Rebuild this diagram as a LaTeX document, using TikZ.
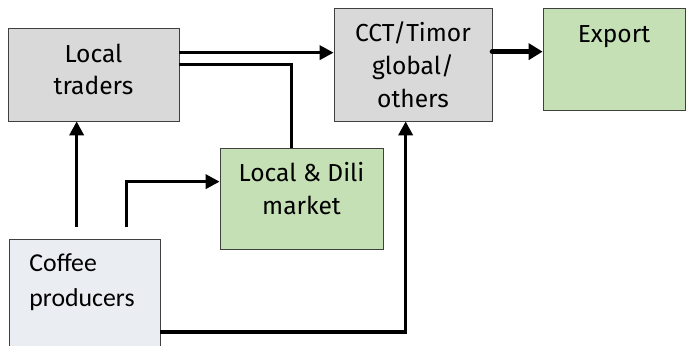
\documentclass[tikz,border=0pt]{standalone}
\usepackage{fontspec}
\setmainfont{Fira Sans}
\newfontfamily\calfont{Carlito}
\usetikzlibrary{arrows.meta, positioning}
\definecolor{boxgrey}{HTML}{D9D9D9}
\definecolor{boxgreen}{HTML}{C5E0B4}
\definecolor{boxblue}{HTML}{EAEDF2}
\definecolor{boxline}{HTML}{404040}
\begin{document}
\begin{tikzpicture}[
	box/.style={draw=boxline, line width=0.6pt, inner sep=0pt, align=center, font=\fontsize{21}{28}\selectfont},
	boxtext/.style={align=center, font=\fontsize{21}{28}\selectfont},
	flow/.style={line width=3pt, -{Triangle[length=0.42cm, width=0.42cm]}},
	plain/.style={line width=3pt}]
	\clip (0,0) rectangle (20.58,10.35);
	\node[box, fill=boxgrey, minimum width=5.13cm, minimum height=2.79cm] (traders) at (2.805,8.115) {};
	\node[boxtext, yshift=0.15cm] (tradtxt) at (traders) {Local\\traders};
	\node[box, fill=boxgrey, minimum width=4.74cm, minimum height=3.39cm] (CCT) at (12.39,8.415) {CCT/Timor\\global/\\others};
	\node[box, fill=boxgreen, minimum width=4.26cm, minimum height=3.06cm] (export) at (18.42,8.58) {};
	\node[boxtext, below=0.42cm of export.north] (exptxt) {Export};
	\node[box, fill=boxgreen, minimum width=4.89cm, minimum height=3.03cm] (market) at (9.045,4.395) {};
	\node[boxtext, yshift=0.3cm] (mkttxt) at (market) {Local \& Dili\\market};
	\node[box, fill=boxblue, minimum width=4.53cm, minimum height=3.75cm] (coffee) at (2.535,1.29) {};
	\node[anchor=north west, align=left, font=\calfont\fontsize{22}{30}\selectfont] (coftxt) at ([xshift=0.5cm, yshift=-0.3cm]coffee.north west) {Coffee\\producers};
	% anchor points on the boxes
	\coordinate (t1) at ([yshift=-0.75cm]traders.north east);
	\coordinate (t2) at ([yshift=-1.11cm]traders.north east);
	\coordinate (m1) at ([xshift=2.16cm]market.north west);
	\coordinate (m2) at ([yshift=-1.02cm]market.north west);
	\coordinate (k1) at ([yshift=-1.32cm]CCT.north east);
	\coordinate (k2) at ([xshift=2.16cm]CCT.south west);
	\coordinate (c1) at ([xshift=2.04cm, yshift=0.36cm]coffee.north west);
	\coordinate (c2) at ([xshift=3.54cm, yshift=0.36cm]coffee.north west);
	\coordinate (c3) at ([yshift=-2.79cm]coffee.north east);
	\draw[flow] (t1) -- (t1 -| CCT.west);
	\draw[plain] (t2) -| (m1);
	\draw[line width=4.5pt, line cap=round, -{Triangle[length=0.42cm, width=0.48cm]}] (k1) -- (k1 -| export.west);
	\draw[flow] (c1) -- (c1 |- traders.south);
	\draw[flow] (c2) |- (m2);
	\draw[flow] (c3) -| (k2);
\end{tikzpicture}
\end{document}
